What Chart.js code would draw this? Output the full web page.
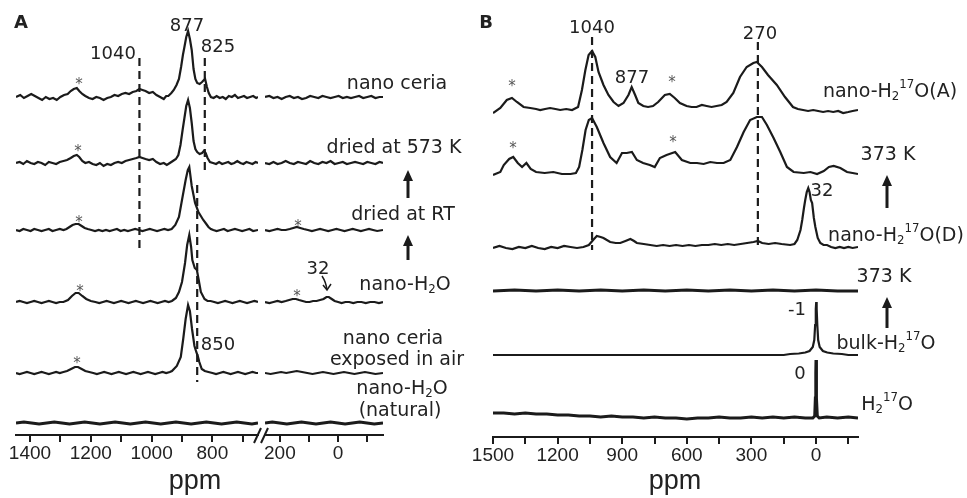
<!DOCTYPE html>
<html>
<head>
<meta charset="utf-8">
<script src="https://cdn.jsdelivr.net/npm/chart.js@4.4.1/dist/chart.umd.min.js"></script>
<style>
  body { margin: 0; background: #fff; }
  #wrap { position: relative; width: 967px; height: 498px; overflow: hidden; font-family: "DejaVu Sans", sans-serif; color: #222; }
  canvas { position: absolute; top: 0; }
  .lbl { position: absolute; white-space: nowrap; font-size: 19px; line-height: 1; transform: translate(-50%, -50%); }
  .num { font-size: 18px; }
  .star { font-size: 15px; color: #555; }
  .ppm { font-family: "Liberation Sans", sans-serif; font-size: 27px; }
  .panel { font-family: "DejaVu Sans", sans-serif; font-weight: bold; font-size: 18px; }
  .lbl sub, .lbl sup { font-size: 0.62em; line-height: 0; }
  .lbl sub { vertical-align: -0.3em; }
  .lbl sup { vertical-align: 0.75em; }
</style>
</head>
<body>
<div id="wrap">
  <canvas id="chartA1" width="262" height="498" style="left:0"></canvas>
  <canvas id="chartA2" width="230" height="498" style="left:250px"></canvas>
  <canvas id="chartB" width="507" height="498" style="left:460px"></canvas>
</div>
<script>
// ---- panel A, left segment (ppm, height above the trace baseline) ----
const ceriaLeft = [[1446,0],[1432,2],[1420,-1],[1408,1],[1396,3],[1384,1],[1372,-1],[1360,-3],[1348,0],[1336,-2],[1324,-1],[1312,-3],[1300,0],[1288,2],[1276,3],[1266,6],[1256,8],[1246,9],[1238,6],[1228,3],[1218,1],[1206,-1],[1194,-2],[1182,0],[1170,-1],[1158,-3],[1146,-1],[1134,0],[1122,2],[1110,1],[1098,3],[1086,4],[1074,3],[1062,5],[1050,6],[1040,8],[1030,7],[1020,6],[1008,4],[996,5],[984,2],[972,0],[960,-2],[952,1],[945,1],[935,4],[927,7],[918,12],[910,18],[903,30],[897,42],[892,50],[886,60],[880,66],[874,58],[868,47],[862,28],[856,18],[850,14],[842,13],[834,15],[828,17],[824,18],[818,10],[812,4],[805,0],[796,-1],[786,1],[776,-1],[766,0],[756,-2],[746,1],[736,0],[726,2],[716,-1],[706,0],[696,1],[686,-1],[676,0],[666,1],[656,-1],[650,0]];
const dried573Left = [[1446,0],[1434,1],[1422,-1],[1410,2],[1398,0],[1386,-1],[1374,1],[1362,0],[1350,-2],[1338,1],[1326,0],[1314,-1],[1302,1],[1290,2],[1278,3],[1266,5],[1256,7],[1246,8],[1238,6],[1228,2],[1218,0],[1206,1],[1194,-1],[1182,-2],[1170,0],[1158,-3],[1146,-1],[1134,-2],[1122,0],[1110,1],[1098,0],[1086,2],[1074,3],[1062,4],[1050,5],[1040,6],[1030,5],[1020,4],[1008,3],[996,4],[984,1],[972,-1],[960,0],[950,-2],[940,0],[930,2],[920,4],[912,8],[905,18],[898,33],[892,45],[886,57],[880,63],[874,55],[868,40],[862,22],[856,14],[850,11],[842,9],[834,10],[828,12],[822,10],[816,5],[808,1],[798,0],[788,-1],[778,1],[768,-1],[758,0],[748,1],[738,-1],[728,0],[718,2],[708,0],[698,-1],[688,1],[678,0],[668,-1],[658,1],[650,0]];
const driedRTLeft = [[1446,0],[1434,-1],[1422,1],[1410,0],[1398,-1],[1386,1],[1374,0],[1362,-1],[1350,0],[1338,1],[1326,-1],[1314,0],[1302,1],[1290,0],[1280,1],[1270,3],[1260,5],[1250,6],[1240,6],[1230,4],[1220,2],[1210,1],[1198,0],[1186,-1],[1174,0],[1162,-1],[1150,0],[1138,-1],[1126,0],[1114,1],[1102,-1],[1090,0],[1078,-1],[1066,0],[1054,1],[1042,0],[1030,-1],[1018,0],[1006,1],[994,0],[982,-1],[970,0],[958,1],[946,0],[934,1],[922,5],[910,13],[900,30],[888,50],[881,60],[876,63],[868,44],[857,27],[846,18],[838,14],[830,10],[820,6],[813,3],[805,1],[797,0],[786,-1],[774,0],[762,1],[750,-1],[738,0],[726,1],[714,0],[702,-1],[690,0],[678,1],[666,-1],[650,0]];
const nanoH2OLeft = [[1446,0],[1434,1],[1422,0],[1410,-1],[1398,0],[1386,1],[1374,0],[1362,-1],[1350,0],[1338,1],[1326,0],[1314,-1],[1302,0],[1290,0],[1275,2],[1262,6],[1250,9],[1240,9],[1228,6],[1215,3],[1200,1],[1185,0],[1172,-1],[1160,0],[1148,1],[1136,0],[1124,-1],[1112,0],[1100,1],[1088,0],[1076,-1],[1064,0],[1052,1],[1040,0],[1028,-1],[1016,0],[1004,1],[992,0],[980,-1],[968,0],[956,1],[944,0],[933,1],[920,4],[910,10],[900,20],[890,39],[883,57],[876,67],[870,55],[866,42],[858,34],[851,32],[845,22],[838,10],[826,3],[816,1],[806,1],[794,0],[782,-1],[770,0],[758,1],[746,0],[734,-1],[722,0],[710,1],[698,0],[686,-1],[674,0],[662,1],[650,0]];
const airLeft = [[1446,0],[1434,-1],[1422,0],[1410,1],[1398,0],[1386,-1],[1374,0],[1362,1],[1350,0],[1338,-1],[1326,0],[1314,1],[1302,0],[1290,1],[1278,2],[1265,4],[1252,6],[1242,6],[1230,4],[1218,2],[1205,1],[1192,0],[1180,-1],[1168,0],[1156,1],[1144,0],[1132,-1],[1120,0],[1108,1],[1096,0],[1084,-1],[1072,0],[1060,1],[1048,0],[1036,-1],[1024,0],[1012,1],[1000,0],[988,-1],[976,0],[964,1],[952,0],[940,1],[933,2],[917,7],[904,16],[896,34],[888,54],[880,68],[874,62],[867,44],[859,27],[853,21],[848,17],[843,11],[835,4],[825,2],[813,1],[800,0],[788,-1],[776,0],[764,1],[752,0],[740,-1],[728,0],[716,1],[704,0],[692,-1],[680,0],[668,1],[656,0],[650,0]];
const naturalLeft = [[1446,0],[1420,1],[1395,0],[1370,-1],[1345,0],[1320,1],[1295,0],[1270,-1],[1245,0],[1220,1],[1195,0],[1170,-1],[1145,0],[1120,1],[1095,0],[1070,-1],[1045,0],[1020,1],[995,0],[970,-1],[945,0],[920,1],[895,0],[870,-1],[845,0],[820,1],[795,0],[770,-1],[745,0],[720,1],[695,0],[670,-1],[650,0]];

// ---- panel A, right segment ----
const ceriaRight = [[251,0],[236,1],[222,-1],[208,0],[194,-2],[180,0],[166,1],[152,-1],[138,0],[124,-2],[110,-1],[96,1],[82,0],[68,-1],[54,1],[40,0],[26,-1],[12,0],[-2,1],[-16,-1],[-30,0],[-44,-1],[-58,0],[-72,1],[-86,-1],[-100,0],[-114,1],[-128,-1],[-142,0],[-154,0]];
const dried573Right = [[251,0],[236,-1],[222,1],[208,-1],[194,0],[180,2],[166,0],[152,-1],[138,1],[124,0],[110,-1],[96,2],[82,0],[68,-1],[54,1],[40,0],[26,2],[12,-1],[-2,0],[-16,1],[-30,-1],[-44,0],[-58,1],[-72,0],[-86,-1],[-100,1],[-114,0],[-128,-1],[-142,1],[-154,0]];
const driedRTRight = [[251,0],[236,-1],[222,0],[208,1],[194,0],[180,0],[166,1],[154,2],[142,3],[130,2],[118,1],[104,0],[90,-1],[76,0],[62,1],[48,0],[34,-1],[20,0],[6,1],[-8,0],[-22,-1],[-36,0],[-50,1],[-64,0],[-78,-1],[-92,0],[-106,1],[-120,0],[-134,-1],[-154,0]];
const nanoH2ORight = [[251,0],[236,-1],[222,0],[208,1],[194,0],[180,1],[168,2],[156,3],[145,3],[134,2],[122,1],[110,0],[98,0],[86,1],[74,1],[62,2],[50,3],[40,5],[32,5],[22,3],[12,1],[0,0],[-12,-1],[-25,0],[-38,0],[-52,-1],[-66,0],[-80,0],[-95,-1],[-110,0],[-125,0],[-140,-1],[-154,0]];
const airRight = [[251,0],[232,-1],[214,0],[196,1],[178,0],[160,1],[142,2],[124,1],[106,0],[88,-1],[70,0],[52,1],[34,0],[16,-1],[-2,0],[-20,1],[-38,0],[-56,-1],[-74,0],[-92,1],[-110,0],[-128,-1],[-154,0]];
const naturalRight = [[251,0],[226,1],[201,0],[176,-1],[151,0],[126,1],[101,0],[76,-1],[51,0],[26,1],[1,0],[-24,-1],[-49,0],[-74,1],[-99,0],[-124,-1],[-154,0]];

// ---- panel B ----
const h17oA = [[1500,-2],[1466,3],[1436,11],[1412,13],[1389,9],[1358,4],[1327,3],[1300,2],[1281,1],[1258,2],[1235,3],[1210,2],[1188,1],[1160,2],[1133,1],[1105,4],[1087,21],[1071,41],[1056,56],[1040,60],[1025,54],[1010,39],[987,26],[964,16],[940,9],[917,5],[894,8],[871,16],[856,24],[840,16],[825,8],[802,5],[780,4],[757,5],[733,9],[702,16],[679,17],[656,13],[632,8],[601,5],[578,4],[555,4],[530,6],[508,5],[485,4],[462,5],[438,6],[415,9],[384,18],[353,34],[322,44],[291,48],[275,49],[251,44],[223,36],[182,26],[144,14],[107,4],[84,2],[60,1],[37,0],[13,1],[-10,0],[-33,-1],[-56,0],[-80,-1],[-103,0],[-126,-2],[-150,-1],[-170,0],[-195,1]];
const h17oA373 = [[1500,0],[1466,3],[1450,10],[1425,16],[1406,18],[1385,12],[1365,8],[1345,12],[1325,6],[1300,3],[1260,2],[1220,3],[1180,1],[1140,1],[1115,2],[1100,8],[1085,25],[1070,45],[1055,55],[1040,57],[1018,48],[987,32],[956,18],[926,12],[901,22],[879,22],[855,23],[832,15],[803,12],[772,10],[749,8],[725,17],[694,20],[654,23],[623,15],[584,12],[553,12],[522,11],[491,13],[460,12],[429,12],[398,15],[367,28],[336,43],[306,55],[275,58],[251,58],[228,50],[197,37],[166,23],[135,8],[104,3],[57,2],[26,3],[-5,1],[-36,4],[-60,8],[-82,9],[-113,7],[-144,3],[-170,2],[-195,1]];
const h17oD = [[1500,0],[1470,2],[1440,0],[1410,-1],[1380,1],[1350,0],[1320,2],[1290,0],[1260,-1],[1230,1],[1200,0],[1170,2],[1140,1],[1110,0],[1080,1],[1055,3],[1035,8],[1018,12],[1000,11],[987,10],[956,6],[930,5],[909,5],[885,7],[862,9],[845,7],[832,5],[800,4],[770,3],[740,2],[710,3],[680,2],[650,3],[620,2],[590,3],[560,2],[530,3],[500,3],[470,4],[440,3],[410,4],[380,3],[350,4],[320,5],[290,6],[270,7],[250,5],[220,4],[190,5],[160,4],[120,3],[100,4],[87,8],[72,18],[64,28],[56,40],[50,48],[43,56],[36,60],[30,56],[24,48],[18,45],[10,30],[3,21],[-8,10],[-20,5],[-35,3],[-51,3],[-70,1],[-90,0],[-110,1],[-130,0],[-150,1],[-170,0],[-195,1]];
const h17oD373 = [[1500,0],[1400,1],[1300,0],[1200,1],[1100,0],[1000,1],[900,0],[800,1],[700,0],[600,1],[500,0],[400,1],[300,0],[200,1],[100,0],[0,1],[-100,0],[-195,0]];
const bulkH17o = [[1500,0],[1200,0],[900,0],[600,0],[300,0],[150,0],[120,1],[80,1.5],[50,2.5],[30,4],[15,8],[8,15],[4,30],[1,46],[-1,53],[-3,46],[-6,30],[-10,15],[-17,8],[-32,4],[-52,2.5],[-80,1.5],[-120,1],[-150,0],[-195,0]];
const h17o = [[1500,5],[1450,5],[1400,4],[1350,5],[1300,4],[1250,4],[1200,3],[1150,3],[1100,2],[1050,2],[1000,1],[950,2],[900,1],[850,1],[800,0],[750,1],[700,0],[650,0],[600,-1],[550,0],[500,0],[450,1],[400,0],[350,0],[300,1],[250,0],[200,1],[150,0],[100,1],[50,0],[15,0],[6,2],[3,20],[1,45],[0,58],[-1,45],[-3,20],[-6,2],[-15,0],[-50,1],[-100,0],[-150,1],[-195,0]];

// tick positions and labels
const ticksA1 = [1400, 1300, 1200, 1100, 1000, 900, 800, 700];
const labelsA1 = [1400, 1200, 1000, 800];
const ticksA2 = [200, 100, 0, -100];
const labelsA2 = [200, 0];
const ticksB = [1500, 1350, 1200, 1050, 900, 750, 600, 450, 300, 150, 0, -150];
const labelsB = [1500, 1200, 900, 600, 300, 0];

const INK = '#1b1b1b';

function spectrum(points, offset, width) {
  return {
    data: points.map(p => ({ x: p[0], y: offset + p[1] })),
    borderColor: INK, borderWidth: width || 2.2, pointRadius: 0, tension: 0, fill: false
  };
}

function dashed(ppm, y0, y1) {
  return {
    data: [{ x: ppm, y: y0 }, { x: ppm, y: y1 }],
    borderColor: INK, borderWidth: 2.2, borderDash: [8, 5], pointRadius: 0
  };
}

// thick up arrows, the small "32" pointer and the axis break
function marksPlugin(left, arrows, extra) {
  return {
    id: 'marks',
    afterDraw(chart) {
      const c = chart.ctx;
      c.save();
      c.fillStyle = INK;
      c.strokeStyle = INK;
      arrows.forEach(([x, tip, tail]) => {
        const px = x - left;
        c.lineWidth = 3;
        c.beginPath();
        c.moveTo(px, tip + 8);
        c.lineTo(px, tail);
        c.stroke();
        c.beginPath();
        c.moveTo(px, tip);
        c.lineTo(px - 5, tip + 11);
        c.lineTo(px + 5, tip + 11);
        c.closePath();
        c.fill();
      });
      if (extra) extra(c, left);
      c.restore();
    }
  };
}

function buildChart(id, o) {
  const ctx = document.getElementById(id).getContext('2d');
  return new Chart(ctx, {
    type: 'line',
    data: { datasets: o.datasets },
    options: {
      responsive: false,
      animation: false,
      layout: { padding: { left: o.padLeft, right: o.padRight, top: o.padTop, bottom: 0 } },
      plugins: { legend: { display: false }, tooltip: { enabled: false } },
      scales: {
        x: {
          type: 'linear', min: o.min, max: o.max, reverse: true,
          afterBuildTicks: s => { s.ticks = o.ticks.map(v => ({ value: v })); },
          afterFit: s => { s.height = o.axisHeight; },
          ticks: {
            autoSkip: false, maxRotation: 0, padding: 0, color: '#222',
            font: { family: 'Liberation Sans', size: 19 },
            callback: v => o.labels.includes(v) ? String(v) : ''
          },
          grid: { drawOnChartArea: false, tickLength: 7, color: INK, lineWidth: 2 },
          border: { color: INK, width: 2 }
        },
        y: { display: false, min: 0, max: 425 }
      }
    },
    plugins: o.plugins || []
  });
}

// panel A: baselines at 338, 272, 205, 133, 62, 12 units above the axis
buildChart('chartA1', {
  min: 650, max: 1446, ticks: ticksA1, labels: labelsA1,
  padLeft: 16, padRight: 4, padTop: 10, axisHeight: 63,
  datasets: [
    spectrum(ceriaLeft, 338), spectrum(dried573Left, 272), spectrum(driedRTLeft, 205),
    spectrum(nanoH2OLeft, 133), spectrum(airLeft, 62), spectrum(naturalLeft, 12, 3),
    dashed(1040, 377, 185), dashed(825, 377, 262), dashed(850, 250, 53)
  ]
});

buildChart('chartA2', {
  min: -154, max: 251, ticks: ticksA2, labels: labelsA2,
  padLeft: 15, padRight: 97, padTop: 10, axisHeight: 63,
  datasets: [
    spectrum(ceriaRight, 338), spectrum(dried573Right, 272), spectrum(driedRTRight, 205),
    spectrum(nanoH2ORight, 133), spectrum(airRight, 62), spectrum(naturalRight, 12, 3)
  ],
  plugins: [marksPlugin(250, [[408, 170, 198], [408, 235, 260]], (c, left) => {
    // axis break
    c.lineWidth = 2;
    [[254, 261], [261, 268]].forEach(([a, b]) => {
      c.beginPath(); c.moveTo(a - left, 443); c.lineTo(b - left, 428); c.stroke();
    });
    // pointer to the 32 ppm signal
    c.lineWidth = 1.5;
    c.beginPath();
    c.moveTo(322 - left, 276);
    c.quadraticCurveTo(326 - left, 282, 327 - left, 290);
    c.stroke();
    c.beginPath();
    c.moveTo(323 - left, 285); c.lineTo(327 - left, 290); c.lineTo(331 - left, 284);
    c.stroke();
  })]
});

// panel B: baselines at 326, 262, 189, 146, 82, 19 units above the axis
buildChart('chartB', {
  min: -195, max: 1500, ticks: ticksB, labels: labelsB,
  padLeft: 33, padRight: 109, padTop: 12, axisHeight: 61,
  datasets: [
    spectrum(h17oA, 326), spectrum(h17oA373, 262), spectrum(h17oD, 189),
    spectrum(h17oD373, 146, 3), spectrum(bulkH17o, 82), spectrum(h17o, 19, 3),
    dashed(1040, 400, 187), dashed(270, 395, 190)
  ],
  plugins: [marksPlugin(460, [[887, 175, 208], [887, 297, 328]])]
});

// text annotations
const notes = [
  ['A', 21, 22, 'panel'], ['B', 486, 22, 'panel'],
  ['1040', 113, 53, 'num'], ['877', 187, 25, 'num'], ['825', 218, 46, 'num'],
  ['850', 218, 344, 'num'], ['32', 318, 268, 'num'],
  ['nano ceria', 397, 82], ['dried at 573 K', 394, 146], ['dried at RT', 403, 213],
  ['nano-H<sub>2</sub>O', 405, 283], ['nano ceria', 393, 337], ['exposed in air', 397, 358],
  ['nano-H<sub>2</sub>O', 402, 387], ['(natural)', 400, 409],
  ['1040', 592, 27, 'num'], ['877', 632, 77, 'num'], ['270', 760, 33, 'num'],
  ['32', 822, 190, 'num'], ['-1', 797, 309, 'num'], ['0', 800, 373, 'num'],
  ['nano-H<sub>2</sub><sup>17</sup>O(A)', 890, 90], ['373 K', 888, 153],
  ['nano-H<sub>2</sub><sup>17</sup>O(D)', 896, 234], ['373 K', 884, 275],
  ['bulk-H<sub>2</sub><sup>17</sup>O', 886, 342], ['H<sub>2</sub><sup>17</sup>O', 887, 403],
  ['*', 79, 84, 'star'], ['*', 78, 151, 'star'], ['*', 79, 222, 'star'], ['*', 298, 226, 'star'],
  ['*', 80, 291, 'star'], ['*', 297, 296, 'star'], ['*', 77, 363, 'star'],
  ['*', 512, 86, 'star'], ['*', 672, 82, 'star'], ['*', 513, 148, 'star'], ['*', 673, 142, 'star'],
  ['ppm', 195, 480, 'ppm'], ['ppm', 675, 480, 'ppm']
];
const wrap = document.getElementById('wrap');
notes.forEach(([html, x, y, cls]) => {
  const d = document.createElement('div');
  d.className = 'lbl' + (cls ? ' ' + cls : '');
  d.innerHTML = html;
  d.style.left = x + 'px';
  d.style.top = y + 'px';
  wrap.appendChild(d);
});
</script>
</body>
</html>
